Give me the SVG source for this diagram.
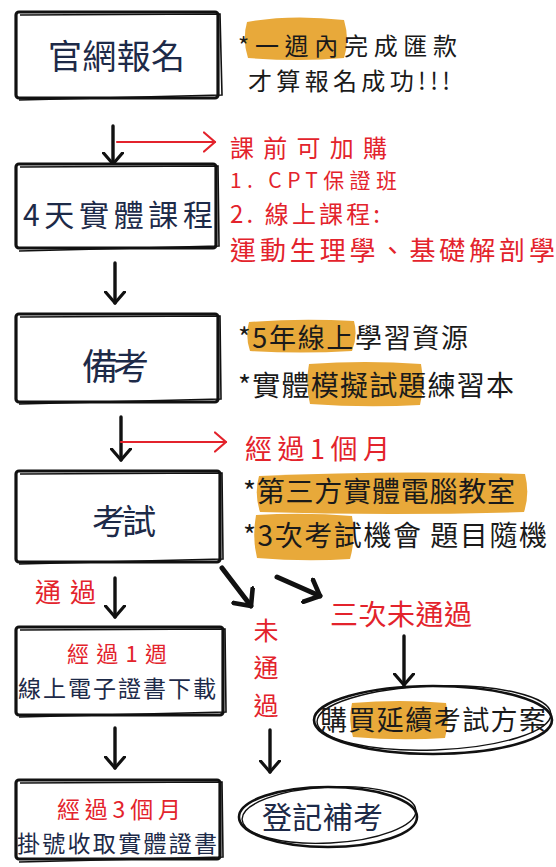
<svg xmlns="http://www.w3.org/2000/svg" width="556" height="867" viewBox="0 0 556 867">
<style>
text{font-family:"Noto Sans CJK TC","Noto Sans CJK SC",sans-serif;}
.n{fill:#1d2a48;}
.r{fill:#e3232c;}
.k{fill:#1a1a1a;}
.box{fill:#fff;stroke:#111;stroke-width:3.2;}
.box2{fill:none;stroke:#111;stroke-width:1.6;}
.hl{fill:#e8a93a;}
.ell{fill:#fff;stroke:#111;stroke-width:2.6;}
.ell2{fill:none;stroke:#111;stroke-width:1.4;}
.ab{fill:none;stroke:#111;stroke-width:3.4;stroke-linecap:round;}
.abt{fill:none;stroke:#111;stroke-width:5;stroke-linecap:round;}
.ar{fill:none;stroke:#e3232c;stroke-width:2.2;stroke-linecap:round;}
</style>
<defs>
<marker id="hb" markerUnits="userSpaceOnUse" viewBox="0 0 14 22" markerWidth="14" markerHeight="22" refX="12" refY="11" orient="auto">
<path d="M1,1.5 L12,11 L1,20.5" fill="none" stroke="#111" stroke-width="3.2" stroke-linecap="round" stroke-linejoin="round"/>
</marker>
<marker id="hbt" markerUnits="userSpaceOnUse" viewBox="0 0 18 28" markerWidth="18" markerHeight="28" refX="15" refY="14" orient="auto">
<path d="M2,2 L15,14 L2,26" fill="none" stroke="#111" stroke-width="4.6" stroke-linecap="round" stroke-linejoin="round"/>
</marker>
<marker id="hr" markerUnits="userSpaceOnUse" viewBox="0 0 14 22" markerWidth="14" markerHeight="22" refX="12" refY="11" orient="auto">
<path d="M1,1.5 L12,11 L1,20.5" fill="none" stroke="#e3232c" stroke-width="2.2" stroke-linecap="round" stroke-linejoin="round"/>
</marker>
</defs>
<rect width="556" height="867" fill="#fff"/>

<g id="connectors">
<path class="ab" d="M113,126 L113,164" marker-end="url(#hb)"/>
<path class="ar" d="M117,142 L215,142" marker-end="url(#hr)"/>
<path class="ab" d="M115,263 L115,303" marker-end="url(#hb)"/>
<path class="ab" d="M121,417 L121,460" marker-end="url(#hb)"/>
<path class="ar" d="M121,442 L226,442" marker-end="url(#hr)"/>
<path class="ab" d="M115,578 L115,617" marker-end="url(#hb)"/>
<path class="abt" d="M222,568 L251,606" marker-end="url(#hbt)"/>
<path class="abt" d="M277,577 L320,596" marker-end="url(#hbt)"/>
<path class="ab" d="M404,636 L404,685" marker-end="url(#hb)"/>
<path class="ab" d="M115,728 L115,768" marker-end="url(#hb)"/>
<path class="ab" d="M270,730 L270,772" marker-end="url(#hb)"/>
</g>

<g id="node-register">
<rect class="box" x="16" y="12" width="202" height="86" rx="3"/>
<path class="box2" d="M20,15 L220,14 L222,95 L19,100"/>
<text class="n" x="48" y="69" font-size="34" textLength="137" lengthAdjust="spacing">官網報名</text>
</g>

<g id="note-register">
<path class="hl" d="M247,22 Q290,14 344,20 Q350,40 344,58 Q300,62 248,58 Q242,40 247,22 Z"/>
<text class="k" x="238" y="55" font-size="24" textLength="219" lengthAdjust="spacing">*一週內完成匯款</text>
<text class="k" x="248" y="90" font-size="24" textLength="202" lengthAdjust="spacing">才算報名成功!!!</text>
</g>

<g id="label-addon">
<text class="r" x="230" y="157" font-size="24" textLength="157" lengthAdjust="spacing">課前可加購</text>
</g>

<g id="node-course">
<rect class="box" x="16" y="164" width="200" height="84" rx="3"/>
<path class="box2" d="M20,167 L218,166 L219,246 L19,251"/>
<text class="n" x="23" y="226" font-size="30" textLength="190" lengthAdjust="spacing">4天實體課程</text>
</g>

<g id="note-course">
<text class="r" x="230" y="188" font-size="21" textLength="167" lengthAdjust="spacing">1. CPT保證班</text>
<text class="r" x="230" y="223" font-size="24" textLength="150" lengthAdjust="spacing">2. 線上課程:</text>
<text class="r" x="230" y="260" font-size="26" textLength="325" lengthAdjust="spacing">運動生理學、基礎解剖學</text>
</g>

<g id="node-prepare">
<rect class="box" x="16" y="314" width="202" height="88" rx="3"/>
<path class="box2" d="M20,317 L220,316 L221,399 L19,404"/>
<text class="n" x="82" y="380" font-size="36" textLength="67" lengthAdjust="spacing">備考</text>
</g>

<g id="note-prepare">
<path class="hl" d="M249,322 Q300,318 354,321 Q358,336 352,351 Q300,354 250,351 Q245,336 249,322 Z"/>
<path class="hl" d="M309,364 Q365,360 421,364 Q425,385 420,405 Q365,408 310,404 Q305,385 309,364 Z"/>
<text class="k" x="238" y="348" font-size="27" textLength="230" lengthAdjust="spacing">*5年線上學習資源</text>
<text class="k" x="238" y="396" font-size="28" textLength="276" lengthAdjust="spacing">*實體模擬試題練習本</text>
</g>

<g id="label-month">
<text class="r" x="245" y="459" font-size="27" textLength="145" lengthAdjust="spacing">經過1個月</text>
</g>

<g id="node-exam">
<rect class="box" x="16" y="471" width="204" height="91" rx="3"/>
<path class="box2" d="M20,474 L222,473 L223,559 L19,564"/>
<text class="n" x="92" y="534" font-size="34" textLength="64" lengthAdjust="spacing">考試</text>
</g>

<g id="note-exam">
<path class="hl" d="M259,476 Q390,470 525,474 Q530,494 524,512 Q390,516 260,512 Q254,494 259,476 Z"/>
<path class="hl" d="M256,515 Q305,512 352,516 Q356,538 350,559 Q305,562 257,558 Q252,538 256,515 Z"/>
<text class="k" x="243" y="502" font-size="28" textLength="272" lengthAdjust="spacing">*第三方實體電腦教室</text>
<text class="k" x="243" y="546" font-size="28" textLength="304" lengthAdjust="spacing">*3次考試機會 題目隨機</text>
</g>

<g id="label-pass">
<text class="r" x="35" y="602" font-size="26" textLength="61" lengthAdjust="spacing">通過</text>
</g>

<g id="label-fail3">
<text class="r" x="330" y="625" font-size="28" textLength="142" lengthAdjust="spacing">三次未通過</text>
</g>

<g id="label-fail">
<text class="r" x="266" y="640" font-size="25" text-anchor="middle">未</text>
<text class="r" x="266" y="677" font-size="25" text-anchor="middle">通</text>
<text class="r" x="266" y="715" font-size="25" text-anchor="middle">過</text>
</g>

<g id="node-ecert">
<rect class="box" x="16" y="627" width="207" height="88" rx="3"/>
<path class="box2" d="M20,630 L225,629 L226,712 L19,717"/>
<text class="r" x="67" y="662" font-size="22" textLength="100" lengthAdjust="spacing">經過1週</text>
<text class="n" x="18" y="697" font-size="23" textLength="198" lengthAdjust="spacing">線上電子證書下載</text>
</g>

<g id="node-extend">
<ellipse class="ell" cx="433" cy="720" rx="119" ry="34"/>
<ellipse class="ell2" cx="434" cy="718" rx="117" ry="32" transform="rotate(-2 434 718)"/>
<path class="hl" d="M352,703 Q400,699 446,703 Q450,720 445,738 Q400,741 353,737 Q348,720 352,703 Z"/>
<text class="k" x="320" y="730" font-size="27" textLength="226" lengthAdjust="spacing">購買延續考試方案</text>
</g>

<g id="node-paper-cert">
<rect class="box" x="16" y="780" width="204" height="79" rx="3"/>
<path class="box2" d="M20,783 L222,782 L223,857 L19,862"/>
<text class="r" x="57" y="818" font-size="23" textLength="124" lengthAdjust="spacing">經過3個月</text>
<text class="n" x="17" y="852" font-size="23" textLength="200" lengthAdjust="spacing">掛號收取實體證書</text>
</g>

<g id="node-retake">
<ellipse class="ell" cx="328" cy="817" rx="89" ry="30"/>
<ellipse class="ell2" cx="329" cy="815" rx="87" ry="28" transform="rotate(-3 329 815)"/>
<text class="n" x="262" y="828" font-size="30" textLength="121" lengthAdjust="spacing">登記補考</text>
</g>
</svg>
